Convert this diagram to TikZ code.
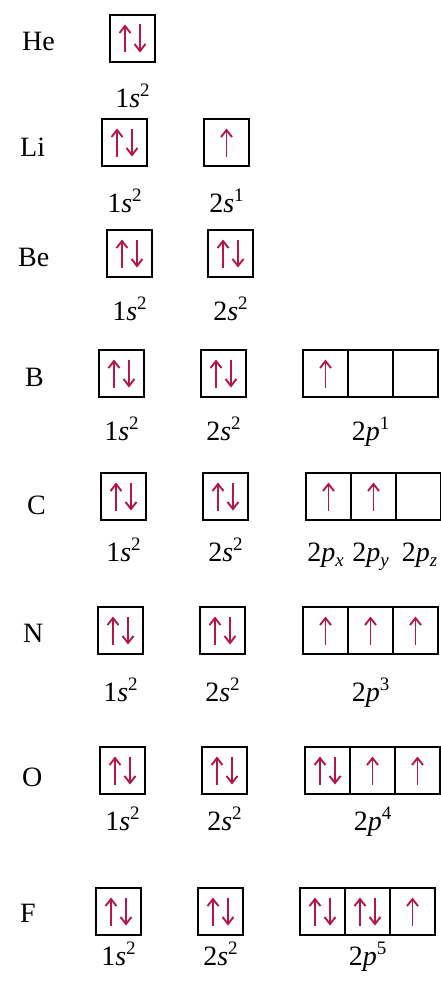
\documentclass[tikz,border=0pt]{standalone}
\usepackage{fontspec}
\setmainfont{Liberation Serif}
\usepackage{tikz}
\usetikzlibrary{arrows.meta,positioning}
\definecolor{crimson}{HTML}{B3154C}
\newcommand{\sups}[1]{\raisebox{10.5pt}{\fontsize{19}{19}\selectfont #1}}
\newcommand{\subs}[1]{\raisebox{-5pt}{\fontsize{19}{19}\selectfont\itshape #1}}
\newcommand{\spinup}[1]{\draw[spin] ([yshift=-14pt]#1.center) -- ([yshift=14pt]#1.center);}
\newcommand{\spinpair}[1]{%
  \draw[spin] ([xshift=-7.5pt,yshift=-14pt]#1.center) -- ++(0,28pt);
  \draw[spin] ([xshift=7.5pt,yshift=14pt]#1.center) -- ++(0,-28pt);}

\begin{document}
\begin{tikzpicture}[
  x=1pt,y=-1pt,
  node distance=0pt,
  every node/.style={font=\fontsize{28}{34}\selectfont},
  orb/.style={draw,line width=1.4pt,minimum width=45pt,minimum height=47pt,
              inner sep=0pt,outer sep=0pt},
  elem/.style={anchor=west,inner sep=0pt},
  conf/.style={anchor=base,inner sep=0pt},
  spin/.style={crimson,line width=1.9pt,
               -{Straight Barb[length=7pt,width=11pt,line width=1.9pt]}}
]
\useasboundingbox (0,0) rectangle (441,990);

% He
\node[elem] (He) at (22,41) {He};
\node[orb] (He1s) at (132.5,38.5) {};
\node[conf] (He1sl) at (132.5,107) {1\textit{s}\sups{2}};
\spinpair{He1s}

% Li
\node[elem] (Li) at (20,147) {Li};
\node[orb] (Li1s) at (124.5,142.5) {};
\node[orb] (Li2s) at (226.5,142.5) {};
\node[conf] (Li1sl) at (124.5,212) {1\textit{s}\sups{2}};
\node[conf] (Li2sl) at (226.5,212) {2\textit{s}\sups{1}};
\spinpair{Li1s}
\spinup{Li2s}

% Be
\node[elem] (Be) at (18,257) {Be};
\node[orb] (Be1s) at (129.5,253.5) {};
\node[orb] (Be2s) at (230.5,253.5) {};
\node[conf] (Be1sl) at (129.5,320) {1\textit{s}\sups{2}};
\node[conf] (Be2sl) at (230.5,320) {2\textit{s}\sups{2}};
\spinpair{Be1s}
\spinpair{Be2s}

% B
\node[elem] (B) at (25,377) {B};
\node[orb] (B1s) at (121.5,373.5) {};
\node[orb] (B2s) at (223.5,373.5) {};
\node[orb] (B2pa) at (325.5,373.5) {};
\node[orb,right=of B2pa] (B2pb) {};
\node[orb,right=of B2pb] (B2pc) {};
\node[conf] (B1sl) at (121.5,440) {1\textit{s}\sups{2}};
\node[conf] (B2sl) at (223.5,440) {2\textit{s}\sups{2}};
\node[conf] (B2pl) at (370.5,440) {2\textit{p}\sups{1}};
\spinpair{B1s}
\spinpair{B2s}
\spinup{B2pa}

% C
\node[elem] (C) at (27,505) {C};
\node[orb] (C1s) at (123.5,496.5) {};
\node[orb] (C2s) at (225.5,496.5) {};
\node[orb] (C2pa) at (328.5,496.5) {};
\node[orb,right=of C2pa] (C2pb) {};
\node[orb,right=of C2pb] (C2pc) {};
\node[conf] (C1sl) at (123.5,561) {1\textit{s}\sups{2}};
\node[conf] (C2sl) at (225.5,561) {2\textit{s}\sups{2}};
\node[conf] (C2pxl) at (325.5,561) {2\textit{p}\subs{x}};
\node[conf] (C2pyl) at (370.5,561) {2\textit{p}\subs{y}};
\node[conf] (C2pzl) at (419.5,561) {2\textit{p}\subs{z}};
\spinpair{C1s}
\spinpair{C2s}
\spinup{C2pa}
\spinup{C2pb}

% N
\node[elem] (N) at (23,633) {N};
\node[orb] (N1s) at (120.5,630.5) {};
\node[orb] (N2s) at (222.5,630.5) {};
\node[orb] (N2pa) at (325.5,630.5) {};
\node[orb,right=of N2pa] (N2pb) {};
\node[orb,right=of N2pb] (N2pc) {};
\node[conf] (N1sl) at (120.5,701) {1\textit{s}\sups{2}};
\node[conf] (N2sl) at (222.5,701) {2\textit{s}\sups{2}};
\node[conf] (N2pl) at (370.5,701) {2\textit{p}\sups{3}};
\spinpair{N1s}
\spinpair{N2s}
\spinup{N2pa}
\spinup{N2pb}
\spinup{N2pc}

% O
\node[elem] (O) at (22,777) {O};
\node[orb] (O1s) at (122.5,770.5) {};
\node[orb] (O2s) at (224.5,770.5) {};
\node[orb] (O2pa) at (327.5,770.5) {};
\node[orb,right=of O2pa] (O2pb) {};
\node[orb,right=of O2pb] (O2pc) {};
\node[conf] (O1sl) at (122.5,830) {1\textit{s}\sups{2}};
\node[conf] (O2sl) at (224.5,830) {2\textit{s}\sups{2}};
\node[conf] (O2pl) at (372.5,830) {2\textit{p}\sups{4}};
\spinpair{O1s}
\spinpair{O2s}
\spinpair{O2pa}
\spinup{O2pb}
\spinup{O2pc}

% F
\node[elem] (F) at (20,913) {F};
\node[orb] (F1s) at (118.5,911.5) {};
\node[orb] (F2s) at (220.5,911.5) {};
\node[orb] (F2pa) at (322.5,911.5) {};
\node[orb,right=of F2pa] (F2pb) {};
\node[orb,right=of F2pb] (F2pc) {};
\node[conf] (F1sl) at (118.5,965) {1\textit{s}\sups{2}};
\node[conf] (F2sl) at (220.5,965) {2\textit{s}\sups{2}};
\node[conf] (F2pl) at (367.5,965) {2\textit{p}\sups{5}};
\spinpair{F1s}
\spinpair{F2s}
\spinpair{F2pa}
\spinpair{F2pb}
\spinup{F2pc}
\end{tikzpicture}
\end{document}
